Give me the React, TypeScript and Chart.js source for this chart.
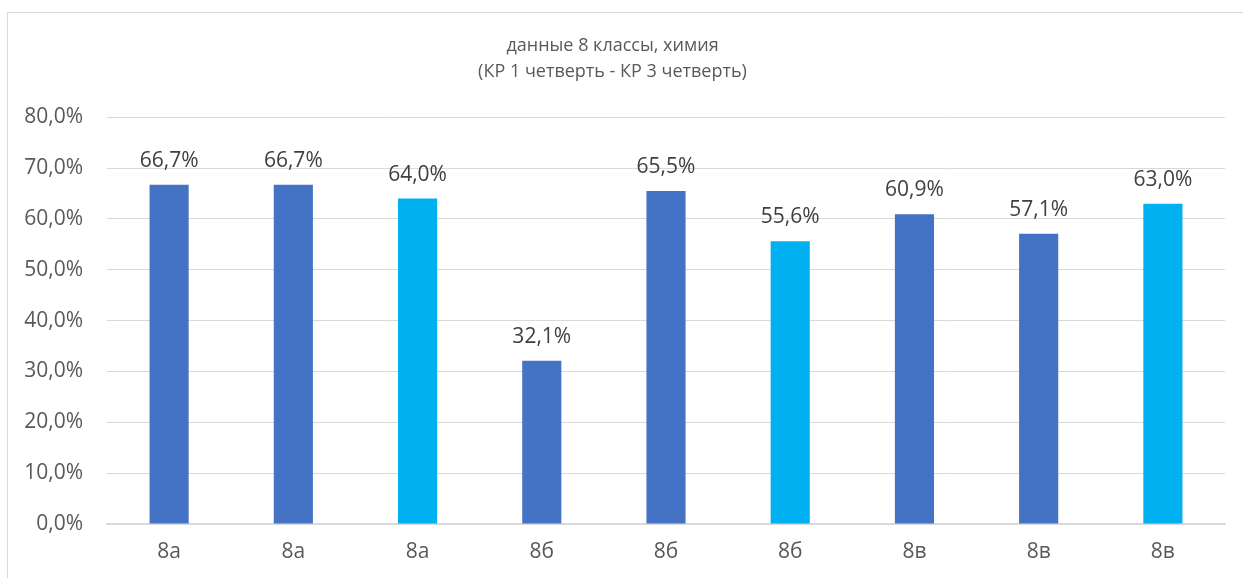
import React, { useEffect, useRef } from "react";
import { Chart, registerables } from "chart.js";

Chart.register(...registerables);

const categories = ["8а", "8а", "8а", "8б", "8б", "8б", "8в", "8в", "8в"];
const values = [66.7, 66.7, 64.0, 32.1, 65.5, 55.6, 60.9, 57.1, 63.0];
const barColors = ["#4472C4", "#4472C4", "#00B0F0", "#4472C4", "#4472C4", "#00B0F0", "#4472C4", "#4472C4", "#00B0F0"];
const titleLines = ["данные 8 классы, химия", "(КР 1 четверть - КР 3 четверть)"];

const FONT = "'Open Sans', 'DejaVu Sans', sans-serif";
const fmt = (v: number) => v.toFixed(1).replace(".", ",") + "%";

const labelPlugin = {
  id: "barLabels",
  afterDatasetsDraw(chart: any) {
    const ctx = chart.ctx;
    const meta = chart.getDatasetMeta(0);
    ctx.save();
    ctx.font = `21px ${FONT}`;
    ctx.fillStyle = "#404040";
    ctx.textAlign = "center";
    ctx.textBaseline = "middle";
    meta.data.forEach((bar: any, i: number) => {
      ctx.fillText(fmt(values[i]), bar.x, bar.y - 24);
    });
    ctx.restore();
  },
};

export default function App() {
  const ref = useRef<HTMLCanvasElement>(null);
  useEffect(() => {
    if (!ref.current) return;
    const chart = new Chart(ref.current, {
      type: "bar",
      data: {
        labels: categories,
        datasets: [
          {
            data: values,
            backgroundColor: barColors,
            borderWidth: 0,
            barPercentage: 0.315,
            categoryPercentage: 1,
          },
        ],
      },
      plugins: [labelPlugin],
      options: {
        responsive: false,
        animation: false,
        layout: { padding: { left: 0, right: 18, top: 0, bottom: 0 } },
        plugins: {
          legend: { display: false },
          tooltip: { enabled: false },
          title: {
            display: true,
            text: titleLines,
            color: "#595959",
            font: { family: FONT, size: 18, weight: "normal" as any, lineHeight: 1.45 },
            padding: { top: 33, bottom: 32 },
          },
        },
        scales: {
          x: {
            grid: { display: false, drawTicks: false },
            border: { display: true, color: "#D9D9D9", width: 1.5 },
            ticks: { color: "#595959", font: { family: FONT, size: 21 }, padding: 15 },
            afterFit: (s: any) => {
              s.height = 54;
            },
          },
          y: {
            min: 0,
            max: 80,
            ticks: {
              stepSize: 10,
              color: "#595959",
              font: { family: FONT, size: 21 },
              padding: 24,
              callback: (v: any) => fmt(Number(v)),
            },
            grid: { color: "#D9D9D9", lineWidth: 1, drawTicks: false },
            border: { display: false },
            afterFit: (s: any) => {
              s.width = 107;
            },
          },
        },
      },
    });
    return () => chart.destroy();
  }, []);
  return (
    <div style={{ position: "fixed", left: 0, top: 0, width: 1243, height: 578, background: "#fff", overflow: "hidden" }}>
      <div
        style={{
          position: "absolute",
          left: 7,
          top: 12,
          width: 1300,
          height: 700,
          border: "1px solid #D9D9D9",
          boxSizing: "border-box",
        }}
      />
      <canvas ref={ref} width={1243} height={578} style={{ position: "absolute", left: 0, top: 0, display: "block" }} />
    </div>
  );
}
